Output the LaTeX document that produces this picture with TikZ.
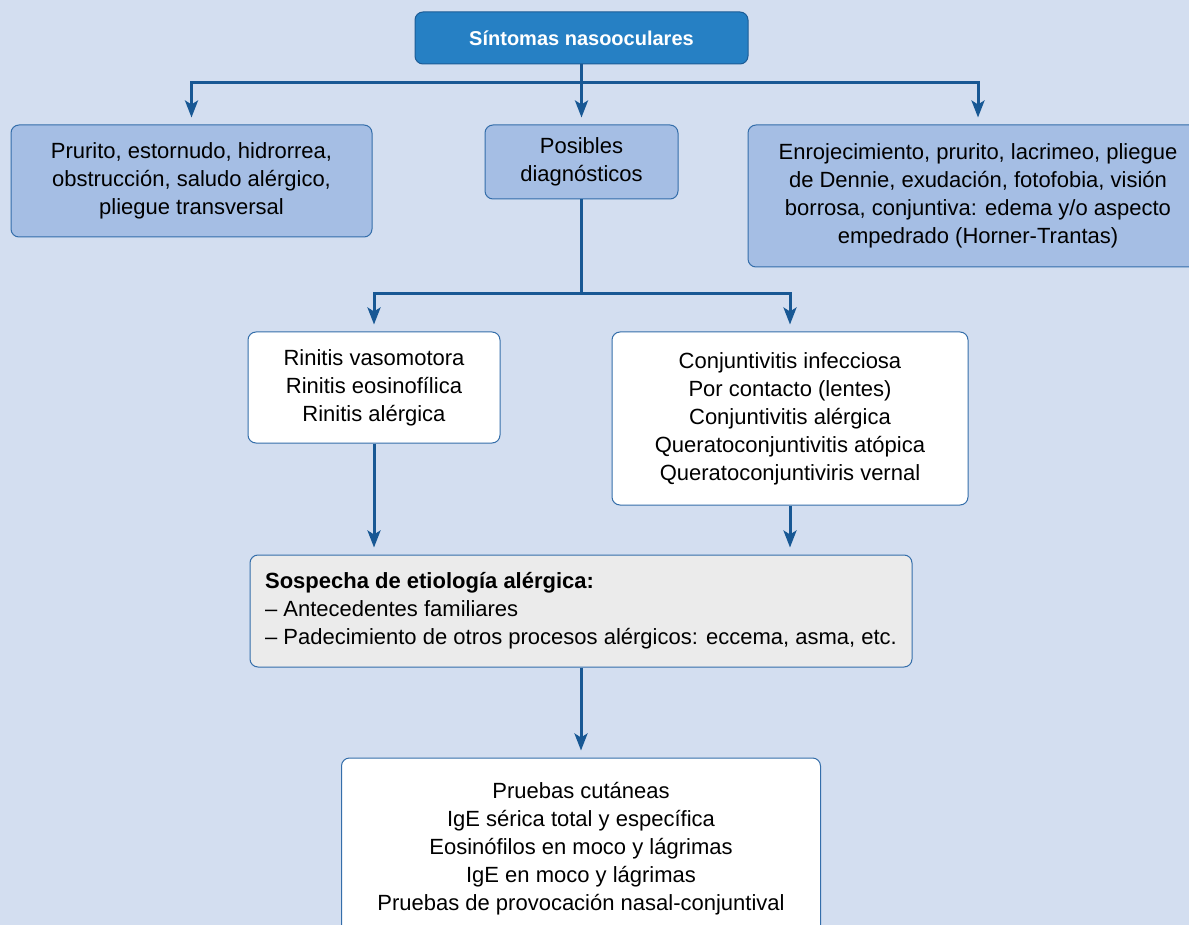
\documentclass[tikz,border=0pt]{standalone}
\usepackage{fontspec}
\setmainfont{Liberation Sans}
\usetikzlibrary{arrows.meta,positioning}

\definecolor{pagebg}{RGB}{211,222,240}
\definecolor{headblue}{RGB}{38,128,196}
\definecolor{headedge}{RGB}{28,92,150}
\definecolor{softblue}{RGB}{165,190,228}
\definecolor{edgeblue}{RGB}{52,110,170}
\definecolor{linkblue}{RGB}{24,88,148}
\definecolor{notegray}{RGB}{235,235,235}

\begin{document}
\begin{tikzpicture}[
  x=1pt, y=1pt,
  every node/.style={font=\fontsize{22}{28}\selectfont},
  flowbox/.style={
    rectangle,
    rounded corners=8pt,
    draw=edgeblue,
    line width=1pt,
    align=center,
    inner sep=4pt
  },
  headbox/.style={flowbox, fill=headblue, draw=headedge, text=white,
    font=\fontsize{20}{26}\selectfont\bfseries},
  symbox/.style={flowbox, fill=softblue},
  diagbox/.style={flowbox, fill=white},
  notebox/.style={flowbox, fill=notegray, align=left},
  arrow/.style={draw=linkblue, line width=3pt, shorten >=7pt,
    -{Stealth[length=17pt,width=13pt,inset=4pt]}}
]
\clip (0,0) rectangle (1189,-925);
\fill[pagebg] (0,0) rectangle (1189,-925);

\node[headbox, minimum width=333pt, minimum height=52pt] (top) at (581.5,-38) {Síntomas nasooculares};
\node[symbox, below=60pt of top, minimum width=193pt, minimum height=74pt] (diag) {Posibles\\diagnósticos};
\node[symbox, anchor=north east, minimum width=361pt, minimum height=112pt] (lsym)
  at ([xshift=-112pt]diag.north west) {Prurito, estornudo, hidrorrea,\\obstrucción, saludo alérgico,\\pliegue transversal};
\node[symbox, anchor=north west, minimum width=460pt, minimum height=142pt] (rsym)
  at ([xshift=69pt]diag.north east) {Enrojecimiento, prurito, lacrimeo, pliegue\\de Dennie, exudación, fotofobia, visión\\borrosa, conjuntiva: edema y/o aspecto\\empedrado (Horner-Trantas)};

\node[diagbox, minimum width=252pt, minimum height=111pt] (rin) at (374,-387.5)
  {Rinitis vasomotora\\Rinitis eosinofílica\\Rinitis alérgica};
\node[diagbox, minimum width=356pt, minimum height=173pt] (conj) at (790,-418.5)
  {Conjuntivitis infecciosa\\Por contacto (lentes)\\Conjuntivitis alérgica\\Queratoconjuntivitis atópica\\Queratoconjuntiviris vernal};

\node[notebox, minimum width=662pt, minimum height=112pt] (sosp) at (581,-611)
  {\textbf{Sospecha de etiología alérgica:}\\– Antecedentes familiares\\– Padecimiento de otros procesos alérgicos: eccema, asma, etc.};
\node[diagbox, below=90pt of sosp, minimum width=479pt, minimum height=182pt] (tests)
  {Pruebas cutáneas\\IgE sérica total y específica\\Eosinófilos en moco y lágrimas\\IgE en moco y lágrimas\\Pruebas de provocación nasal-conjuntival};

\coordinate (hubA) at ([yshift=-18pt]top.south);
\coordinate (hubB) at ([yshift=-94pt]diag.south);

\draw[arrow] (top) -- (hubA) -| (lsym);
\draw[arrow] (hubA) -| (rsym);
\draw[arrow] (hubA) -- (diag);
\draw[arrow] (diag) -- (hubB) -| (rin);
\draw[arrow] (hubB) -| (conj);
\draw[arrow] (rin) -- (rin.south |- sosp.north);
\draw[arrow] (conj) -- (conj.south |- sosp.north);
\draw[arrow] (sosp) -- (tests);
\end{tikzpicture}
\end{document}
